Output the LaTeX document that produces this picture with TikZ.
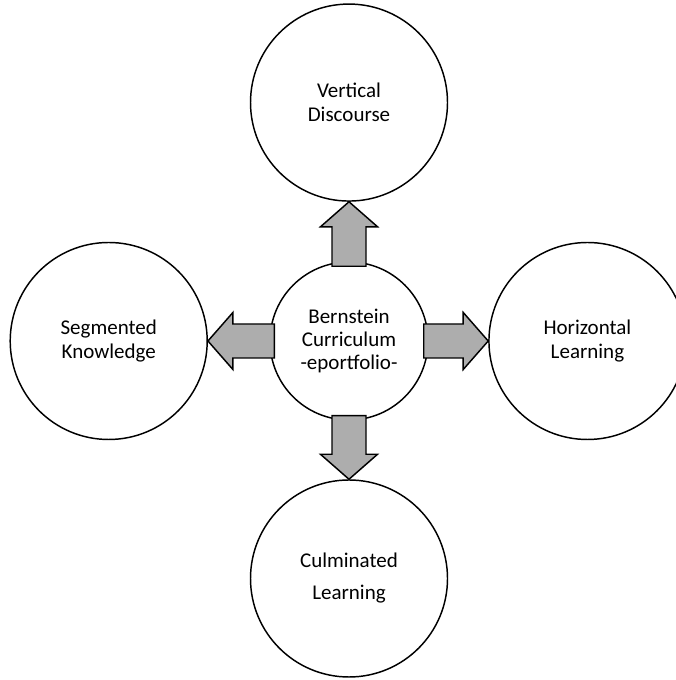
\documentclass[tikz,border=0pt]{standalone}
\usepackage{fontspec}
\setmainfont{Carlito}
\usetikzlibrary{calc}
\usetikzlibrary{positioning}

\tikzset{
  bubble/.style={circle,draw=black,line width=1.1pt,fill=white,minimum size=147.75pt,inner sep=0pt,align=center,font=\fontsize{15.75}{18}\selectfont},
  hub/.style={bubble,minimum size=118.5pt,font=\fontsize{15.75}{17.25}\selectfont},
  blockarrow/.style={draw=black,line width=1.1pt,fill=black!32,line join=miter}
}

% block arrow from the rim of #1 to the rim of #2
\newcommand{\blockarrow}[2]{%
  \coordinate (ba-s) at ($(#1)!-3.75pt!(#2)$);
  \coordinate (ba-t) at (#2);
  \coordinate (ba-h) at ($(ba-t)!18.75pt!(ba-s)$);
  \draw[blockarrow] ($(ba-s)!12.75pt!90:(ba-t)$) -- ($(ba-h)!12.75pt!90:(ba-t)$)
    -- ($(ba-h)!21.4pt!90:(ba-t)$) -- (ba-t) -- ($(ba-h)!21.4pt!-90:(ba-t)$)
    -- ($(ba-h)!12.75pt!-90:(ba-t)$) -- ($(ba-s)!12.75pt!-90:(ba-t)$) -- cycle;
}

\begin{document}
\begin{tikzpicture}[x=0.75pt,y=0.75pt]
\useasboundingbox (0,0) rectangle (675,680);

\node[hub] (C) at (349,339) {Bernstein\\Curriculum\\-eportfolio-};
\node[bubble,above=44.6pt of C] (T) {Vertical\\Discourse};
\node[bubble,left=46pt of C] (L) {Segmented\\Knowledge};
\node[bubble,right=44.6pt of C] (R) {Horizontal\\Learning};
\node[bubble,below=43.9pt of C] (B) {Culminated\\[6pt]Learning};

\blockarrow{C.north}{T.south}
\blockarrow{C.west}{L.east}
\blockarrow{C.east}{R.west}
\blockarrow{C.south}{B.north}

\end{tikzpicture}
\end{document}
